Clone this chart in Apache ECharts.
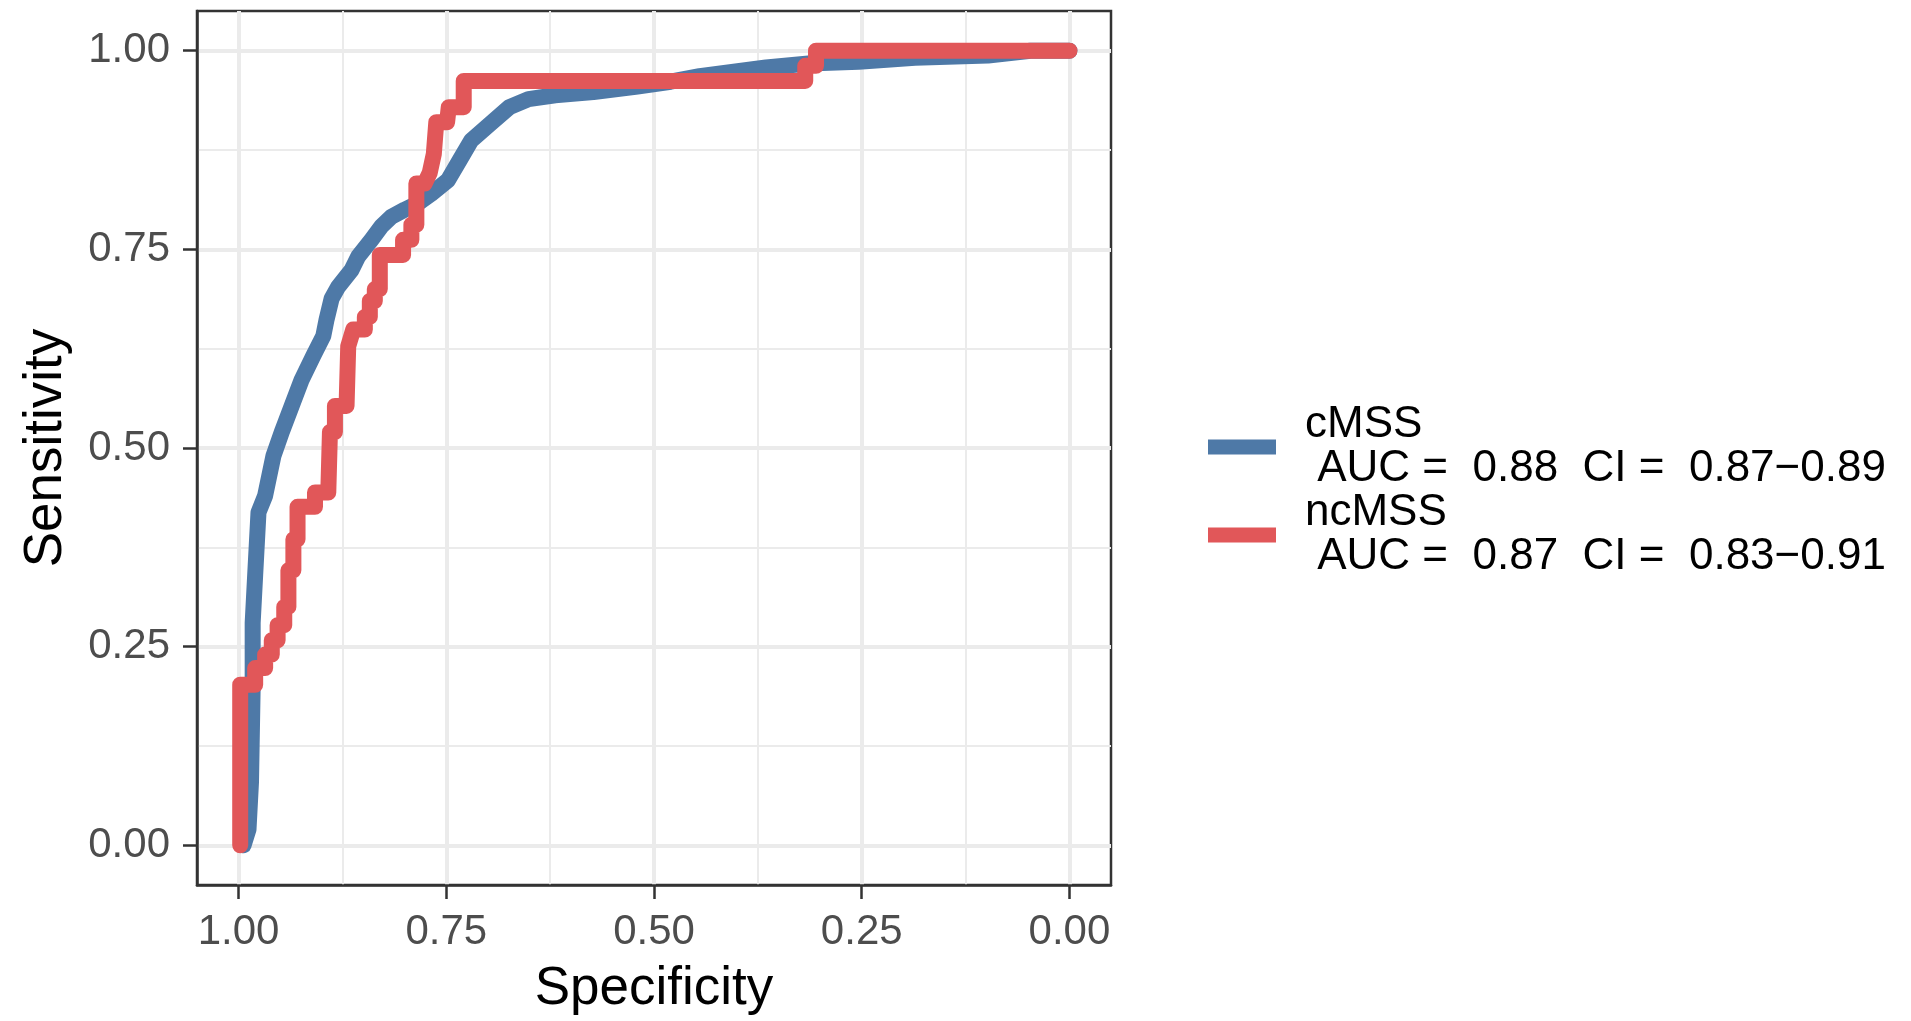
<!DOCTYPE html>
<html>
<head>
<meta charset="utf-8">
<script src="https://cdn.jsdelivr.net/npm/echarts@6/dist/echarts.min.js"></script>
<style>
  html, body { margin: 0; padding: 0; background: #fff; }
  #chart { width: 1911px; height: 1021px; }
</style>
</head>
<body>
<div id="chart"></div>
<script>
// ROC curves: specificity (x, reversed) vs sensitivity (y)
const cmssSpec = [0.994, 0.988, 0.985, 0.983, 0.983, 0.980, 0.976, 0.968, 0.958, 0.948,
  0.936, 0.924, 0.910, 0.898, 0.894, 0.888, 0.880, 0.864, 0.856, 0.840, 0.828,
  0.816, 0.800, 0.784, 0.768, 0.748, 0.734, 0.720, 0.697, 0.674, 0.651,
  0.619, 0.573, 0.520, 0.480, 0.445, 0.365, 0.314, 0.254, 0.186, 0.098,
  0.047, 0.000]
const cmssSens = [0.000, 0.020, 0.080, 0.200, 0.280, 0.340, 0.419, 0.440, 0.490, 0.520,
  0.553, 0.586, 0.616, 0.641, 0.662, 0.688, 0.703, 0.724, 0.741, 0.762, 0.779,
  0.791, 0.800, 0.808, 0.820, 0.837, 0.862, 0.887, 0.908, 0.929, 0.939,
  0.944, 0.948, 0.955, 0.961, 0.968, 0.979, 0.984, 0.986, 0.991, 0.994,
  1.000, 1.000]

const ncmssSpec = [0.998, 0.998, 0.980, 0.980, 0.968, 0.968, 0.960, 0.960, 0.953, 0.953,
  0.945, 0.945, 0.940, 0.940, 0.934, 0.934, 0.929, 0.929, 0.908, 0.908,
  0.892, 0.890, 0.884, 0.884, 0.870, 0.868, 0.862, 0.848, 0.848, 0.842,
  0.842, 0.836, 0.836, 0.830, 0.830, 0.802, 0.802, 0.792, 0.792, 0.786,
  0.786, 0.776, 0.770, 0.765, 0.762, 0.749, 0.747, 0.729, 0.729, 0.318,
  0.318, 0.305, 0.305, 0.000]
const ncmssSens = [0.000, 0.202, 0.202, 0.223, 0.223, 0.240, 0.240, 0.258, 0.258, 0.277,
  0.277, 0.300, 0.300, 0.346, 0.346, 0.385, 0.385, 0.426, 0.426, 0.444,
  0.444, 0.520, 0.520, 0.553, 0.553, 0.628, 0.649, 0.649, 0.665, 0.665,
  0.685, 0.685, 0.700, 0.700, 0.743, 0.743, 0.762, 0.762, 0.781, 0.781,
  0.833, 0.833, 0.846, 0.870, 0.910, 0.910, 0.929, 0.929, 0.962, 0.962,
  0.981, 0.981, 1.000, 1.000]

const seriesNames = ['cMSS', 'ncMSS']
const aucValues = ['0.88', '0.87']
const ciLow = ['0.87', '0.83']
const ciHigh = ['0.89', '0.91']

const majorTicks = [0, 0.25, 0.5, 0.75, 1]
const minorTicks = [0.125, 0.375, 0.625, 0.875]

function pairs(xs, ys) {
  return xs.map((x, i) => [x, ys[i]])
}

const font = '"Liberation Sans", Arial, Helvetica, sans-serif'
const gridGrey = '#EBEBEB'
const inkGrey = '#333333'

function tickLabel(margin) {
  return {
    customValues: majorTicks,
    margin: margin,
    fontSize: 42,
    color: '#4D4D4D',
    fontFamily: font,
    formatter: v => v.toFixed(2)
  }
}

function mainAxis(name, extra) {
  return Object.assign({
    type: 'value',
    min: -0.05,
    max: 1.05,
    name: name,
    nameLocation: 'middle',
    nameTextStyle: { fontSize: 53, color: '#000', fontFamily: font },
    axisLine: { show: true, onZero: false, lineStyle: { color: inkGrey, width: 2.5 } },
    axisTick: { show: true, length: 14, customValues: majorTicks, lineStyle: { color: inkGrey, width: 2.5 } },
    splitLine: { show: true, lineStyle: { color: gridGrey, width: 4 } }
  }, extra)
}

function minorAxis(extra) {
  return Object.assign({
    type: 'value',
    min: -0.05,
    max: 1.05,
    axisLine: { show: false, onZero: false },
    axisTick: { show: false, customValues: minorTicks },
    axisLabel: { show: false, customValues: minorTicks },
    splitLine: { show: true, lineStyle: { color: gridGrey, width: 2 } }
  }, extra)
}

let mychart = echarts.init(document.getElementById('chart'))
let option = {
  animation: false,
  backgroundColor: '#fff',
  textStyle: { fontFamily: font },
  grid: {
    left: 197,
    right: 800,
    top: 11,
    bottom: 134,
    show: true,
    borderColor: inkGrey,
    borderWidth: 2.5,
    backgroundColor: 'transparent'
  },
  legend: {
    orient: 'vertical',
    left: 1203,
    top: 398,
    itemWidth: 68,
    itemHeight: 15,
    itemGap: 0,
    icon: 'rect',
    selectedMode: false,
    data: seriesNames,
    textStyle: { fontSize: 44, lineHeight: 44, color: '#000', fontFamily: font, padding: [0, 0, 0, 24] },
    formatter: name => {
      let i = seriesNames.indexOf(name)
      return name + '\n AUC =  ' + aucValues[i] + '  CI =  ' + ciLow[i] + '\u2212' + ciHigh[i]
    }
  },
  xAxis: [
    mainAxis('Specificity', { inverse: true, nameGap: 78, axisLabel: tickLabel(26) }),
    minorAxis({ inverse: true, position: 'bottom' })
  ],
  yAxis: [
    mainAxis('Sensitivity', { nameGap: 124, axisLabel: tickLabel(27) }),
    minorAxis({ position: 'left' })
  ],
  series: [
    {
      name: seriesNames[0],
      type: 'line',
      data: pairs(cmssSpec, cmssSens),
      showSymbol: false,
      symbol: 'none',
      color: '#4E79A7',
      lineStyle: { width: 16, color: '#4E79A7', cap: 'round', join: 'round' },
      z: 3
    },
    {
      name: seriesNames[1],
      type: 'line',
      data: pairs(ncmssSpec, ncmssSens),
      showSymbol: false,
      symbol: 'none',
      color: '#E15759',
      lineStyle: { width: 16, color: '#E15759', cap: 'round', join: 'round' },
      z: 4
    }
  ]
}
mychart.setOption(option)
</script>
</body>
</html>
